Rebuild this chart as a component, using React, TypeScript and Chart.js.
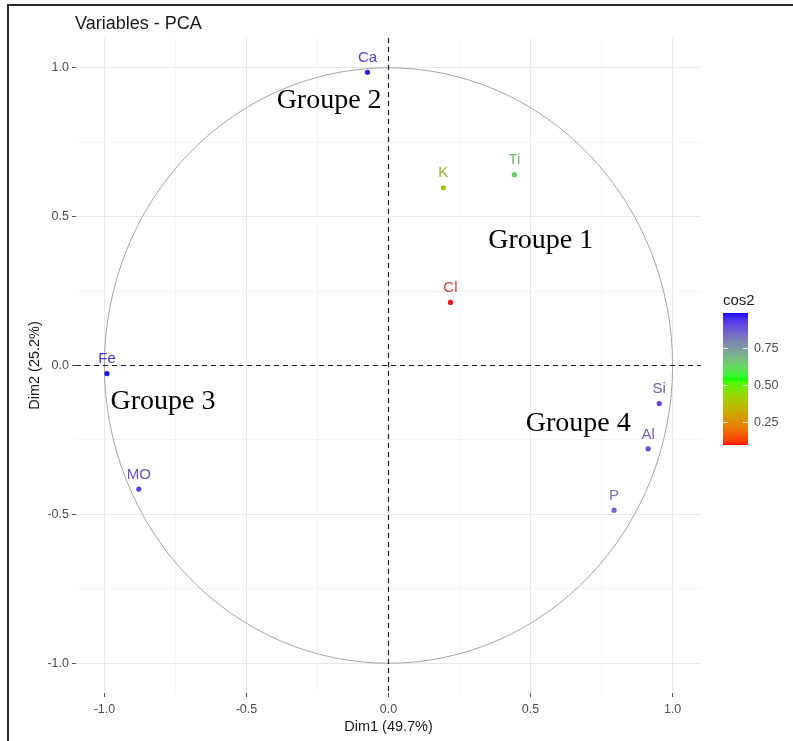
import React, { useEffect, useRef } from 'react';
import { Chart, registerables } from 'chart.js';
Chart.register(...registerables);

// ---- data ----
const variables = ['Ca', 'K', 'Ti', 'Cl', 'Fe', 'MO', 'Si', 'Al', 'P'];
const dim1 = [-0.074, 0.193, 0.443, 0.218, -0.991, -0.879, 0.953, 0.914, 0.794];
const dim2 = [0.985, 0.597, 0.641, 0.212, -0.027, -0.415, -0.128, -0.28, -0.486];
const groupLabels = ['Groupe 1', 'Groupe 2', 'Groupe 3', 'Groupe 4'];
const groupX = [0.536, -0.209, -0.794, 0.668];
const groupY = [0.418, 0.89, -0.121, -0.196];
const axisTicks = [-1, -0.75, -0.5, -0.25, 0, 0.25, 0.5, 0.75, 1];
const legendTicks = [0.25, 0.5, 0.75];
const gradientColors = ['#FF0000', '#00FF00', '#0000FF'];
const chartTitle = 'Variables - PCA';
const xTitle = 'Dim1 (49.7%)';
const yTitle = 'Dim2 (25.2%)';
const legendTitle = 'cos2';

// cos2 on the plane = Dim1^2 + Dim2^2
const cos2 = dim1.map((x, i) => x * x + dim2[i] * dim2[i]);
const cosMin = Math.min(...cos2);
const cosMax = Math.max(...cos2);

// ---- Lab colour interpolation (like scales::colour_ramp) ----
const XN = 0.95047, YN = 1.0, ZN = 1.08883;
function hexToRgb(h: string) {
  return [parseInt(h.slice(1, 3), 16), parseInt(h.slice(3, 5), 16), parseInt(h.slice(5, 7), 16)];
}
function toLin(c: number) {
  c /= 255;
  return c <= 0.04045 ? c / 12.92 : Math.pow((c + 0.055) / 1.055, 2.4);
}
function toSrgb(c: number) {
  const v = c <= 0.0031308 ? 12.92 * c : 1.055 * Math.pow(Math.max(c, 0), 1 / 2.4) - 0.055;
  return Math.round(Math.max(0, Math.min(1, v)) * 255);
}
function rgbToLab(rgb: number[]) {
  const R = toLin(rgb[0]), G = toLin(rgb[1]), B = toLin(rgb[2]);
  const X = 0.4124564 * R + 0.3575761 * G + 0.1804375 * B;
  const Y = 0.2126729 * R + 0.7151522 * G + 0.072175 * B;
  const Z = 0.0193339 * R + 0.119192 * G + 0.9503041 * B;
  const f = (t: number) => (t > 0.008856 ? Math.cbrt(t) : 7.787 * t + 16 / 116);
  const fx = f(X / XN), fy = f(Y / YN), fz = f(Z / ZN);
  return [116 * fy - 16, 500 * (fx - fy), 200 * (fy - fz)];
}
function labToRgb(lab: number[]) {
  const fy = (lab[0] + 16) / 116;
  const fx = fy + lab[1] / 500;
  const fz = fy - lab[2] / 200;
  const fi = (t: number) => (t * t * t > 0.008856 ? t * t * t : (t - 16 / 116) / 7.787);
  const X = XN * fi(fx), Y = YN * fi(fy), Z = ZN * fi(fz);
  const R = 3.2404542 * X - 1.5371385 * Y - 0.4985314 * Z;
  const G = -0.969266 * X + 1.8760108 * Y + 0.041556 * Z;
  const B = 0.0556434 * X - 0.2040259 * Y + 1.0572252 * Z;
  return [toSrgb(R), toSrgb(G), toSrgb(B)];
}
const labStops = gradientColors.map((c) => rgbToLab(hexToRgb(c)));
function rampRgb(t: number) {
  t = Math.max(0, Math.min(1, t));
  const n = labStops.length - 1;
  const seg = Math.min(n - 1, Math.floor(t * n));
  const u = t * n - seg;
  const a = labStops[seg], b = labStops[seg + 1];
  return labToRgb([a[0] + (b[0] - a[0]) * u, a[1] + (b[1] - a[1]) * u, a[2] + (b[2] - a[2]) * u]);
}
const toCss = (c: number[]) => `rgb(${c[0]},${c[1]},${c[2]})`;
const mixGray = (c: number[], k: number) => c.map((v) => Math.round(v * (1 - k) + 140 * k));
const cosRgb = (v: number) => rampRgb((v - cosMin) / (cosMax - cosMin));
const cosColor = (v: number) => toCss(cosRgb(v));
const pointColors = cos2.map((v) => toCss(mixGray(cosRgb(v), 0.15)));
const labelColors = cos2.map((v) => toCss(mixGray(cosRgb(v), 0.42)));

const SANS = '"Liberation Sans", Arial, sans-serif';
const SERIF = '"Liberation Serif", "Times New Roman", serif';
const isMajor = (v: number) => Math.abs(v * 2 - Math.round(v * 2)) < 1e-9;

const decorPlugin = {
  id: 'decor',
  beforeDraw(chart: any) {
    const ctx = chart.ctx;
    ctx.save();
    ctx.fillStyle = '#ffffff';
    ctx.fillRect(0, 0, chart.width, chart.height);
    ctx.restore();
  },
  beforeDatasetsDraw(chart: any) {
    const { ctx, chartArea, scales } = chart;
    const xs = scales.x, ys = scales.y;
    ctx.save();
    // correlation circle
    const cx = xs.getPixelForValue(0), cy = ys.getPixelForValue(0);
    const rx = xs.getPixelForValue(1) - cx, ry = cy - ys.getPixelForValue(1);
    ctx.strokeStyle = '#a6a6a6';
    ctx.lineWidth = 1;
    ctx.beginPath();
    ctx.ellipse(cx, cy, rx, ry, 0, 0, Math.PI * 2);
    ctx.stroke();
    // dashed axes
    ctx.strokeStyle = '#222';
    ctx.lineWidth = 1.2;
    ctx.setLineDash([5, 4]);
    ctx.beginPath();
    ctx.moveTo(chartArea.left, cy);
    ctx.lineTo(chartArea.right, cy);
    ctx.moveTo(cx, chartArea.top);
    ctx.lineTo(cx, chartArea.bottom);
    ctx.stroke();
    ctx.restore();
  },
  afterDatasetsDraw(chart: any) {
    const { ctx, scales } = chart;
    const meta = chart.getDatasetMeta(0);
    ctx.save();
    ctx.font = `15px ${SANS}`;
    ctx.textAlign = 'center';
    ctx.textBaseline = 'middle';
    meta.data.forEach((el: any, i: number) => {
      ctx.fillStyle = labelColors[i];
      ctx.fillText(variables[i], el.x, el.y - 14.5);
    });
    ctx.font = `28px ${SERIF}`;
    ctx.fillStyle = '#000';
    groupLabels.forEach((g, i) => {
      ctx.fillText(g, scales.x.getPixelForValue(groupX[i]), scales.y.getPixelForValue(groupY[i]));
    });
    ctx.restore();
  },
  afterDraw(chart: any) {
    const { ctx, chartArea } = chart;
    ctx.save();
    // title
    ctx.fillStyle = '#1a1a1a';
    ctx.font = `18px ${SANS}`;
    ctx.textAlign = 'left';
    ctx.textBaseline = 'alphabetic';
    ctx.fillText(chartTitle, 75, 29);
    // axis titles
    ctx.font = `14.5px ${SANS}`;
    ctx.textAlign = 'center';
    ctx.textBaseline = 'middle';
    ctx.fillText(xTitle, (chartArea.left + chartArea.right) / 2, 727);
    ctx.save();
    ctx.translate(35, (chartArea.top + chartArea.bottom) / 2);
    ctx.rotate(-Math.PI / 2);
    ctx.fillText(yTitle, 0, 0);
    ctx.restore();
    // legend
    ctx.textAlign = 'left';
    ctx.textBaseline = 'alphabetic';
    ctx.font = `15px ${SANS}`;
    ctx.fillText(legendTitle, 723, 305);
    const barL = 723, barW = 25, barT = 313, barB = 445;
    for (let y = barT; y < barB; y++) {
      const v = cosMax - ((y + 0.5 - barT) / (barB - barT)) * (cosMax - cosMin);
      ctx.fillStyle = cosColor(v);
      ctx.fillRect(barL, y, barW, 1);
    }
    ctx.font = `12.5px ${SANS}`;
    ctx.textBaseline = 'middle';
    legendTicks.forEach((t) => {
      const y = Math.round(barB - ((t - cosMin) / (cosMax - cosMin)) * (barB - barT)) + 0.5;
      ctx.strokeStyle = 'rgba(255,255,255,0.9)';
      ctx.lineWidth = 1;
      ctx.beginPath();
      ctx.moveTo(barL, y);
      ctx.lineTo(barL + 5, y);
      ctx.moveTo(barL + barW - 5, y);
      ctx.lineTo(barL + barW, y);
      ctx.stroke();
      ctx.fillStyle = '#4d4d4d';
      ctx.fillText(t.toFixed(2), 754, y);
    });
    // screenshot frame
    ctx.fillStyle = '#2a2a2a';
    ctx.fillRect(7, 4, chart.width - 7, 2);
    ctx.fillRect(7, 4, 2, chart.height - 4);
    ctx.restore();
  },
};

function makeScale(isX: boolean) {
  return {
    type: 'linear',
    min: -1.1,
    max: 1.1,
    afterBuildTicks: (s: any) => {
      s.ticks = axisTicks.map((v) => ({ value: v }));
    },
    afterFit: (s: any) => {
      if (isX) s.height = 48;
      else s.width = 76;
    },
    border: { display: false },
    grid: {
      color: (c: any) => (c.tick && isMajor(c.tick.value) ? '#e8e8e8' : '#f2f2f2'),
      lineWidth: (c: any) => (c.tick && isMajor(c.tick.value) ? 1 : 0.8),
      tickColor: (c: any) => (c.tick && isMajor(c.tick.value) ? '#555555' : 'rgba(0,0,0,0)'),
      tickLength: 4,
      tickWidth: 1,
      drawTicks: true,
    },
    ticks: {
      autoSkip: false,
      maxRotation: 0,
      minRotation: 0,
      padding: isX ? 5 : 3,
      color: '#4d4d4d',
      font: { family: SANS, size: 12.5 },
      callback: (v: number) => (isMajor(v) ? v.toFixed(1) : ''),
    },
  };
}

export default function App() {
  const ref = useRef<HTMLCanvasElement>(null);
  useEffect(() => {
    if (!ref.current) return;
    const chart = new Chart(ref.current, {
      type: 'scatter',
      data: {
        datasets: [
          {
            data: dim1.map((x, i) => ({ x, y: dim2[i] })),
            pointRadius: 2.6,
            pointHoverRadius: 2.6,
            pointBorderWidth: 0,
            pointBackgroundColor: pointColors,
            pointBorderColor: pointColors,
          },
        ],
      },
      options: {
        responsive: false,
        animation: false,
        events: [],
        layout: { padding: { top: 38, right: 92, left: 0, bottom: 0 } },
        plugins: { legend: { display: false }, tooltip: { enabled: false }, title: { display: false } },
        scales: { x: makeScale(true) as any, y: makeScale(false) as any },
      },
      plugins: [decorPlugin],
    });
    return () => chart.destroy();
  }, []);
  return (
    <div style={{ position: 'absolute', left: 0, top: 0, width: 793, height: 741, background: '#fff' }}>
      <canvas ref={ref} width={793} height={741} style={{ width: 793, height: 741, display: 'block' }} />
    </div>
  );
}
